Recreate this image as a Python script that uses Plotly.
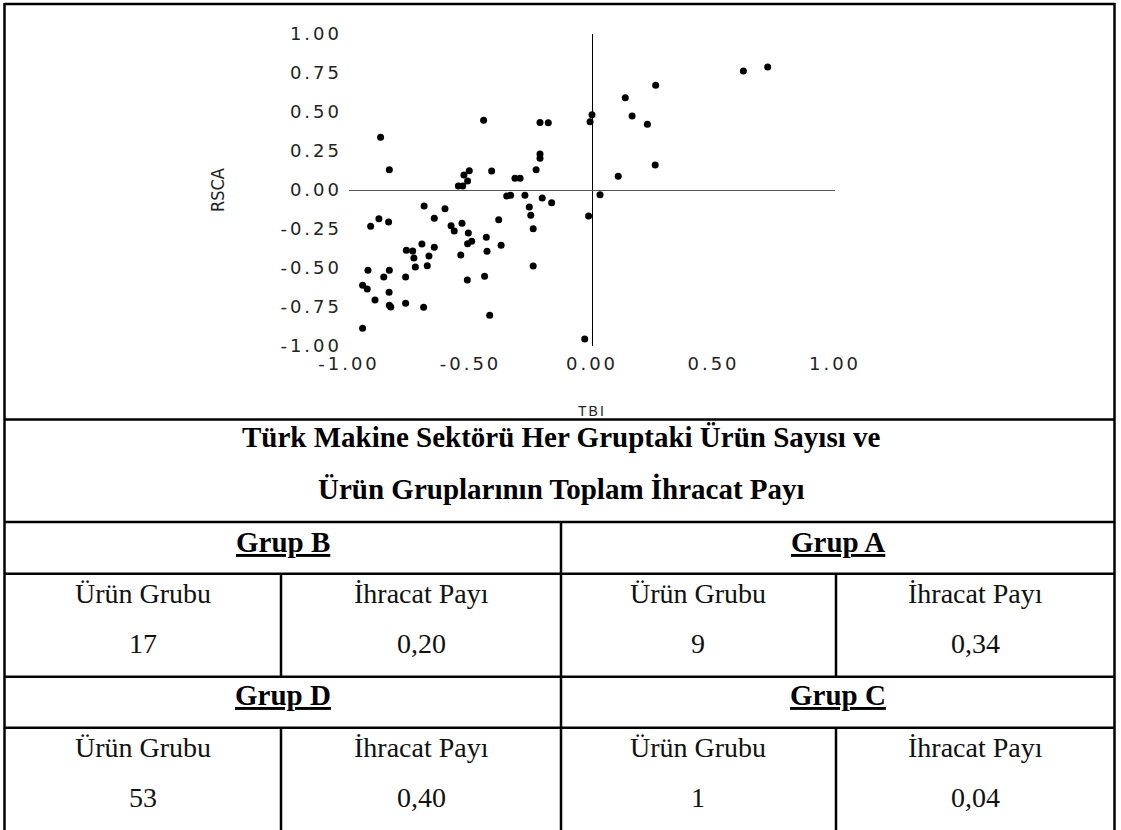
import plotly.graph_objects as go

# TBI / RSCA values
tbi = [-0.446, -0.870, -0.834, -0.505, -0.527, -0.512, -0.550, -0.532, -0.413, -0.317,
       -0.296, -0.230, -0.214, -0.180, -0.214, -0.214, -0.351, -0.335, -0.276, -0.205,
       -0.166, -0.691, -0.605, -0.877, -0.911, -0.837, -0.649, -0.580, -0.535, -0.567,
       -0.509, -0.384, -0.258, -0.252, -0.242, -0.435, -0.495, -0.512, -0.374, -0.700,
       -0.649, -0.764, -0.738, -0.733, -0.671, -0.432, -0.540, -0.727, -0.678, -0.922,
       -0.834, -0.857, -0.767, -0.242, -0.513, -0.442, -0.944, -0.925, -0.835, -0.893,
       -0.834, -0.828, -0.767, -0.693, -0.421, -0.944, 0.623, 0.723, 0.262, 0.137,
       0.165, 0.228, 0.000, -0.008, 0.260, 0.108, 0.033, -0.014, -0.030]
rsca = [0.447, 0.338, 0.130, 0.124, 0.096, 0.058, 0.026, 0.026, 0.122, 0.075,
        0.075, 0.130, 0.433, 0.431, 0.231, 0.203, -0.038, -0.034, -0.034, -0.051,
        -0.081, -0.103, -0.120, -0.184, -0.233, -0.205, -0.181, -0.229, -0.213, -0.263,
        -0.276, -0.190, -0.109, -0.162, -0.248, -0.303, -0.329, -0.344, -0.354, -0.346,
        -0.367, -0.387, -0.391, -0.436, -0.423, -0.393, -0.417, -0.494, -0.485, -0.515,
        -0.515, -0.558, -0.558, -0.487, -0.577, -0.553, -0.611, -0.635, -0.656, -0.705,
        -0.739, -0.750, -0.726, -0.752, -0.803, -0.887, 0.763, 0.788, 0.671, 0.592,
        0.474, 0.421, 0.483, 0.438, 0.160, 0.088, -0.030, -0.167, -0.955]

tick_vals = [-1.0, -0.75, -0.5, -0.25, 0.0, 0.25, 0.5, 0.75, 1.0]
x_tick_vals = [-1.0, -0.5, 0.0, 0.5, 1.0]

title_lines = ["Türk Makine Sektörü Her Gruptaki Ürün Sayısı ve",
               "Ürün Gruplarının Toplam İhracat Payı"]
groups = ["Grup B", "Grup A", "Grup D", "Grup C"]
col_headers = ["Ürün Grubu", "İhracat Payı"]
product_counts = ["17", "9", "53", "1"]
export_shares = ["0,20", "0,34", "0,40", "0,04"]

W, H = 1121, 830


def px(x):
    return x / W


def py(y):
    return 1 - y / H


def spaced(s, sp=3):
    return '<span style="letter-spacing:%dpx">%s</span>' % (sp, s)


fig = go.Figure()
fig.add_trace(go.Scatter(x=tbi, y=rsca, mode="markers",
                         marker=dict(color="black", size=7, line=dict(width=0)),
                         showlegend=False, hoverinfo="skip"))

tick_font = dict(family="DejaVu Sans", size=18, color="#222")
fig.update_xaxes(domain=[px(349), px(835)], range=[-1, 1], showgrid=False,
                 showline=False, zeroline=True, zerolinecolor="black", zerolinewidth=1,
                 tickvals=x_tick_vals, ticktext=[spaced("%.2f" % v) for v in x_tick_vals],
                 tickfont=tick_font, ticks="", ticklabelstandoff=5, automargin=False)
fig.update_yaxes(domain=[py(346), py(34)], range=[-1, 1], showgrid=False,
                 showline=False, zeroline=True, zerolinecolor="#555", zerolinewidth=1,
                 tickvals=tick_vals, ticktext=[spaced("%.2f" % v) for v in tick_vals],
                 tickfont=tick_font, ticks="", ticklabelstandoff=6, automargin=False)

shapes = []


def hline(y, x0=4.5, x1=1114.5):
    shapes.append(dict(type="line", xref="paper", yref="paper", x0=px(x0), x1=px(x1),
                       y0=py(y), y1=py(y), line=dict(color="black", width=2.5)))


def vline(x, y0, y1):
    shapes.append(dict(type="line", xref="paper", yref="paper", x0=px(x), x1=px(x),
                       y0=py(y0), y1=py(y1), line=dict(color="black", width=2.5)))


# outer frame and table grid
hline(4)
vline(4.5, 3, 830)
vline(1114.5, 3, 830)
for y in [419.5, 522, 573.7, 676.7, 727.7]:
    hline(y)
vline(561, 522, 830)
for y0, y1 in [(573.7, 676.7), (727.7, 830)]:
    vline(281, y0, y1)
    vline(836, y0, y1)

serif = "Liberation Serif"
ann = []
ann.append(dict(text="RSCA", x=px(218), y=py(190), textangle=-90,
                font=dict(family="Liberation Sans Narrow, DejaVu Sans Condensed, sans-serif",
                          size=18, color="#222")))
ann.append(dict(text=spaced("TBI", 2), x=px(592), y=py(411),
                font=dict(family="Liberation Sans", size=14, color="#222")))
for i, line in enumerate(title_lines):
    ann.append(dict(text=line, x=px(561), y=py([437, 489][i]),
                    font=dict(family=serif, size=29, color="black", weight="bold")))

group_x = [283, 837.5]
col_x = [143, 421, 698, 975]
cell_font = dict(family=serif, size=28, color="#111")
for r, (gy, hy, vy) in enumerate([(542, 593, 643), (695, 747, 797)]):
    for c in range(2):
        k = r * 2 + c
        ann.append(dict(text=groups[k], x=px(group_x[c]), y=py(gy),
                        font=dict(family=serif, size=29, color="black",
                                  weight="bold", lineposition="under")))
        ann.append(dict(text=col_headers[0], x=px(col_x[2 * c]), y=py(hy), font=cell_font))
        ann.append(dict(text=col_headers[1], x=px(col_x[2 * c + 1]), y=py(hy), font=cell_font))
        ann.append(dict(text=product_counts[k], x=px(col_x[2 * c]), y=py(vy), font=cell_font))
        ann.append(dict(text=export_shares[k], x=px(col_x[2 * c + 1]), y=py(vy), font=cell_font))

for a in ann:
    a.update(xref="paper", yref="paper", showarrow=False, xanchor="center",
             yanchor="middle")

fig.update_layout(width=W, height=H, margin=dict(l=0, r=0, t=0, b=0),
                  plot_bgcolor="white", paper_bgcolor="white",
                  shapes=shapes, annotations=ann)

# drop the default body margin so the figure sits at the window's corner
fig.write_html("out.html", config={"displayModeBar": False},
               post_script="document.body.style.margin='0';document.body.style.overflow='hidden';")
